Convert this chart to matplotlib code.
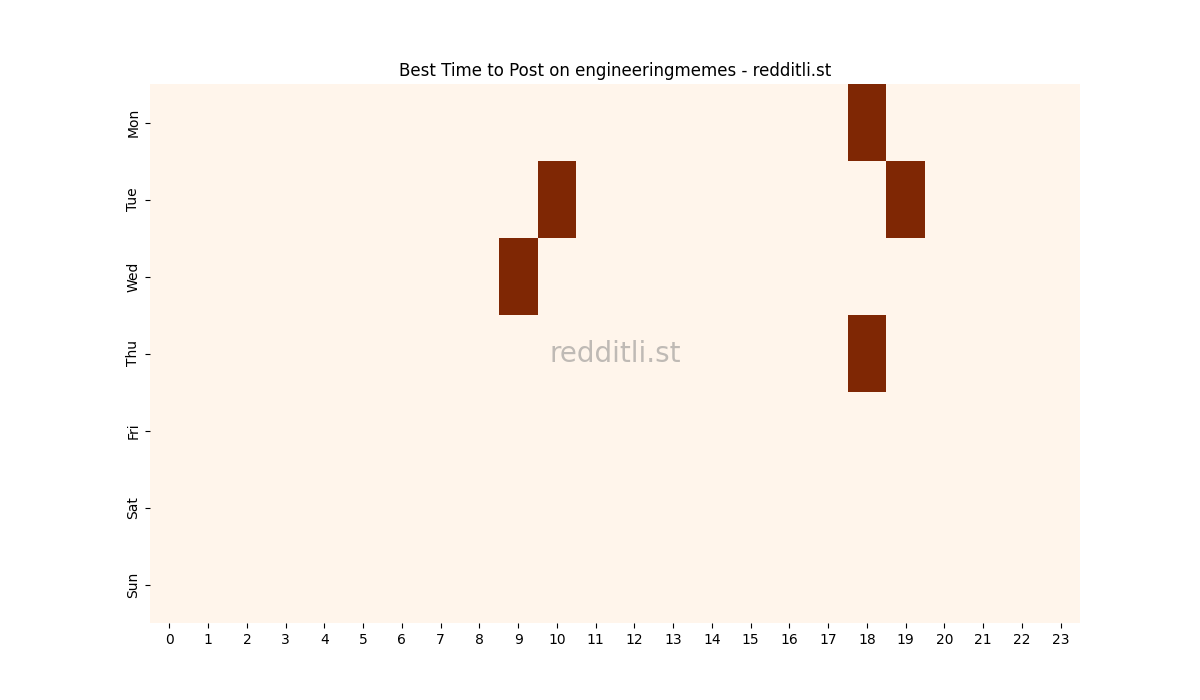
import numpy as np
import pandas as pd
import seaborn as sns
import matplotlib
matplotlib.use("Agg")
import matplotlib.pyplot as plt

days = ["Mon", "Tue", "Wed", "Thu", "Fri", "Sat", "Sun"]
hours = list(range(24))

# best hours per day (1 = best slot)
best_slots = {
    "Mon": [18],
    "Tue": [10, 19],
    "Wed": [9],
    "Thu": [18],
}

grid = np.zeros((len(days), len(hours)))
for d, hs in best_slots.items():
    for h in hs:
        grid[days.index(d), h] = 1
df = pd.DataFrame(grid, index=days, columns=hours)

fig, ax = plt.subplots(figsize=(12, 7), dpi=100)
sns.heatmap(df, cmap="Oranges", cbar=False, ax=ax)
ax.set_title("Best Time to Post on engineeringmemes - redditli.st")
ax.set_yticklabels(days, rotation=90, va="center")
ax.set_xticklabels(hours, rotation=0)
ax.text(0.5, 0.5, "redditli.st", transform=ax.transAxes, ha="center", va="center",
        fontsize=20, color="gray", alpha=0.5)

plt.savefig("out.png")
